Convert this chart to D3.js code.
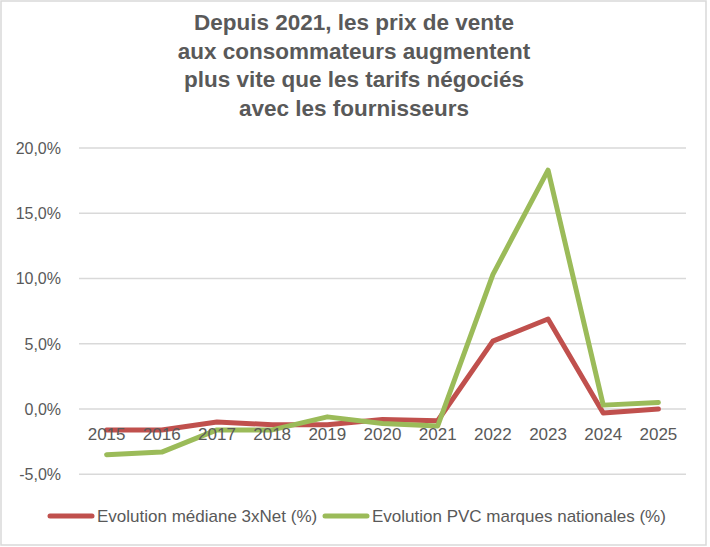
<!DOCTYPE html>
<html lang="fr">
<head>
<meta charset="UTF-8">
<title>Prix de vente vs tarifs négociés</title>
<script src="https://d3js.org/d3.v7.min.js"></script>
<style>
    body { margin: 0; padding: 0; background: #fff; }
    svg { display: block; font-family: "Liberation Sans", Arial, sans-serif; }
</style>
</head>
<body>
<svg id="chart" width="710" height="547"></svg>
<script>
    // Data
    const years = ['2015', '2016', '2017', '2018', '2019', '2020', '2021', '2022', '2023', '2024', '2025'];
    const median3xNet = [-1.6, -1.6, -1.0, -1.2, -1.2, -0.8, -0.9, 5.2, 6.9, -0.3, 0.0];
    const pvcNational = [-3.5, -3.3, -1.6, -1.6, -0.6, -1.1, -1.3, 10.3, 18.3, 0.3, 0.5];
    const yTicks = [-5, 0, 5, 10, 15, 20];
    const titleLines = [
        'Depuis 2021, les prix de vente',
        'aux consommateurs augmentent',
        'plus vite que les tarifs négociés',
        'avec les fournisseurs'
    ];
    const seriesNames = ['Evolution médiane 3xNet (%)', 'Evolution PVC marques nationales (%)'];

    const width = 710, height = 547;
    const margin = { top: 148, right: 24, bottom: 73, left: 79 };
    const textColor = '#595959';
    const colors = ['#C0504D', '#9BBB59'];

    const svg = d3.select('#chart');

    // outer border
    svg.append('rect')
        .attr('x', 1).attr('y', 1)
        .attr('width', width - 5).attr('height', height - 3)
        .attr('fill', '#fff')
        .attr('stroke', '#D9D9D9')
        .attr('stroke-width', 1.5);

    // title
    svg.append('text')
        .attr('text-anchor', 'middle')
        .attr('font-size', 22.5)
        .attr('font-weight', 'bold')
        .attr('fill', textColor)
        .selectAll('tspan')
        .data(titleLines)
        .enter().append('tspan')
        .attr('x', 354)
        .attr('y', (d, i) => 30 + i * 28.6)
        .text(d => d);

    const x = d3.scalePoint()
        .domain(years)
        .range([margin.left, width - margin.right])
        .padding(0.5);

    const y = d3.scaleLinear()
        .domain([-5, 20])
        .range([474.3, margin.top]);

    // gridlines
    svg.append('g')
        .selectAll('line')
        .data(yTicks)
        .enter().append('line')
        .attr('x1', margin.left)
        .attr('x2', width - margin.right)
        .attr('y1', d => y(d))
        .attr('y2', d => y(d))
        .attr('stroke', '#D9D9D9')
        .attr('stroke-width', 1.5);

    // y axis labels
    const fmt = d => d.toFixed(1).replace('.', ',') + '%';
    svg.append('g')
        .selectAll('text')
        .data(yTicks)
        .enter().append('text')
        .attr('x', 61)
        .attr('y', d => y(d))
        .attr('dy', '0.36em')
        .attr('text-anchor', 'end')
        .attr('font-size', 16)
        .attr('fill', textColor)
        .text(fmt);

    // lines
    const line = d3.line()
        .x((d, i) => x(years[i]))
        .y(d => y(d));

    [median3xNet, pvcNational].forEach((series, i) => {
        svg.append('path')
            .datum(series)
            .attr('fill', 'none')
            .attr('stroke', colors[i])
            .attr('stroke-width', 5)
            .attr('stroke-linejoin', 'round')
            .attr('stroke-linecap', 'round')
            .attr('d', line);
    });

    // x axis labels (next to the 0 line, drawn over the series)
    svg.append('g')
        .selectAll('text')
        .data(years)
        .enter().append('text')
        .attr('x', d => x(d))
        .attr('y', 440)
        .attr('text-anchor', 'middle')
        .attr('font-size', 17)
        .attr('fill', textColor)
        .text(d => d);

    // legend
    const legendX = [50, 325];
    const legend = svg.append('g');
    seriesNames.forEach((name, i) => {
        legend.append('line')
            .attr('x1', legendX[i]).attr('x2', legendX[i] + 42)
            .attr('y1', 516).attr('y2', 516)
            .attr('stroke', colors[i])
            .attr('stroke-width', 5)
            .attr('stroke-linecap', 'round');
        legend.append('text')
            .attr('x', legendX[i] + 47)
            .attr('y', 522)
            .attr('font-size', 17)
            .attr('fill', textColor)
            .text(name);
    });
</script>
</body>
</html>
